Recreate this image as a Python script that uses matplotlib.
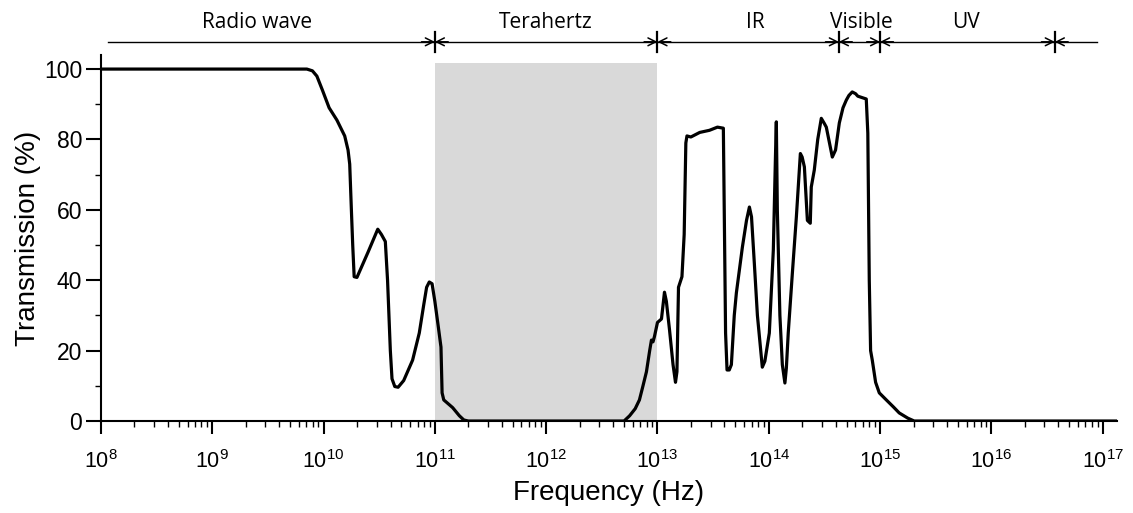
import matplotlib
matplotlib.use("Agg")
import matplotlib.pyplot as plt
import matplotlib.ticker as mticker
import numpy as np

# log10(frequency / Hz) and transmission (%)
log_freq = [8.0, 9.85, 9.90, 9.94, 9.99, 10.05, 10.12, 10.19, 10.22, 10.235,
            10.25, 10.262, 10.275, 10.30, 10.40, 10.487, 10.52, 10.555, 10.575, 10.60,
            10.615, 10.64, 10.67, 10.72, 10.80, 10.86, 10.90, 10.926, 10.95, 10.975,
            11.0, 11.03, 11.055, 11.065, 11.08, 11.16, 11.22, 11.26, 11.30,
            12.70, 12.75, 12.80, 12.838, 12.87, 12.901, 12.93, 12.946, 12.96, 12.973,
            13.0, 13.036, 13.063, 13.08, 13.108, 13.14, 13.162, 13.175, 13.189, 13.22,
            13.24, 13.255, 13.265, 13.30, 13.38, 13.467, 13.539, 13.592, 13.60, 13.612,
            13.625, 13.645, 13.664, 13.69, 13.709, 13.763, 13.80, 13.826, 13.845, 13.87,
            13.898, 13.942, 13.965, 14.005, 14.041, 14.06, 14.068, 14.077, 14.10, 14.122,
            14.145, 14.158, 14.175, 14.212, 14.248, 14.284, 14.30, 14.32, 14.347, 14.373,
            14.382, 14.409, 14.44, 14.472, 14.50, 14.517, 14.571, 14.60, 14.634, 14.667,
            14.697, 14.72, 14.75, 14.78, 14.80, 14.876, 14.89, 14.903, 14.915, 14.93,
            14.96, 14.993, 15.056, 15.12, 15.172, 15.25, 15.307, 17.13]
transmission = [100, 100, 99.5, 98, 94, 89, 85.5, 81, 77, 73,
                60, 50, 41, 40.8, 48, 54.5, 53, 51, 40, 20,
                12, 9.8, 9.6, 11.5, 17.3, 25, 33, 38, 39.5, 39,
                34, 27, 21, 8, 6, 3.8, 1.5, 0.3, 0,
                0, 1.5, 3.5, 6, 10, 14, 20, 23, 22.5, 24,
                28, 29, 36.6, 34, 26, 16, 11, 14, 38, 41,
                53, 79, 81, 80.7, 82, 82.6, 83.5, 83.2, 60, 25,
                14.5, 14.5, 16, 30, 36.4, 49.4, 57, 60.8, 58, 45,
                30, 15.3, 17, 25, 48.6, 75, 85, 60, 30, 16,
                10.8, 15, 25, 42, 58, 76, 75, 72.2, 57, 56.2,
                66.5, 71.3, 80, 86, 84.5, 83.5, 75, 77, 84.7, 89,
                91.2, 92.5, 93.5, 93, 92.3, 91.5, 81.8, 40, 20, 17.3,
                11, 8, 6, 4, 2.3, 0.8, 0, 0]

# spectral bands: boundaries (log10 Hz) and labels
band_edges = [8.06, 11.0, 13.0, 14.63, 15.0, 16.57, 16.95]
band_names = ["Radio wave", "Terahertz", "IR", "Visible", "UV"]
band_label_pos = [9.4, 12.0, 13.88, 14.83, 15.77]
decades = np.arange(8, 18)

fig = plt.figure(figsize=(11.33, 5.13), dpi=100)
ax = fig.add_axes([0.0891, 0.1793, 0.8969, 0.7135])

ax.axvspan(1e11, 1e13, ymin=0, ymax=101.7 / 104, color="#d9d9d9", lw=0, zorder=0)
ax.plot(10 ** np.array(log_freq), transmission, color="black", lw=2.3, zorder=3,
        solid_joinstyle="round")

ax.set_xscale("log")
ax.set_xlim(1e8, 10 ** 17.13)
ax.set_ylim(0, 104)
ax.set_yticks([0, 20, 40, 60, 80, 100])
ax.yaxis.set_minor_locator(mticker.MultipleLocator(10))
ax.set_xticks(10.0 ** decades)
ax.set_xticklabels([rf"$\mathregular{{10^{{{d}}}}}$" for d in decades])
ax.xaxis.set_minor_locator(mticker.LogLocator(base=10, subs=np.arange(2, 10), numticks=20))
ax.xaxis.set_minor_formatter(mticker.NullFormatter())
for s in ["top", "right"]:
    ax.spines[s].set_visible(False)
for s in ["left", "bottom"]:
    ax.spines[s].set_linewidth(1.5)
ax.tick_params(axis="both", which="major", direction="out", width=1.5, colors="black")
ax.tick_params(axis="both", which="minor", direction="out", length=4.5, width=1.0)
ax.tick_params(axis="x", which="major", length=9, labelsize=15.5, pad=12)
ax.tick_params(axis="y", which="major", length=10.5, labelsize=16.5, pad=3)
for lab in ax.get_xticklabels() + ax.get_yticklabels():
    lab.set_fontfamily("Liberation Sans")

ax.set_xlabel("Frequency (Hz)", fontsize=20, family="Liberation Sans", labelpad=5)
ax.set_ylabel("Transmission (%)", fontsize=20, family="Liberation Sans", labelpad=2)

# band bar above the plot
trans = ax.get_xaxis_transform()
yb = 1.036
ax.plot([10 ** band_edges[0], 10 ** band_edges[-1]], [yb, yb], color="black", lw=1.0,
        transform=trans, clip_on=False)
for e in band_edges[1:-1]:
    x = 10 ** e
    ax.plot([x, x], [yb - 0.028, yb + 0.028], color="black", lw=1.6,
            transform=trans, clip_on=False)
    for side in (-0.12, 0.12):
        ax.annotate("", xy=(x, yb), xytext=(10 ** (e + side), yb),
                    xycoords=trans, textcoords=trans,
                    arrowprops=dict(arrowstyle="->", lw=1.1, color="black",
                                    shrinkA=0, shrinkB=0, mutation_scale=14))
for name, pos in zip(band_names, band_label_pos):
    ax.text(10 ** pos, 1.09, name, transform=trans, ha="center", va="center",
            fontsize=15, family="Open Sans")

fig.savefig("out.png", dpi=100)
